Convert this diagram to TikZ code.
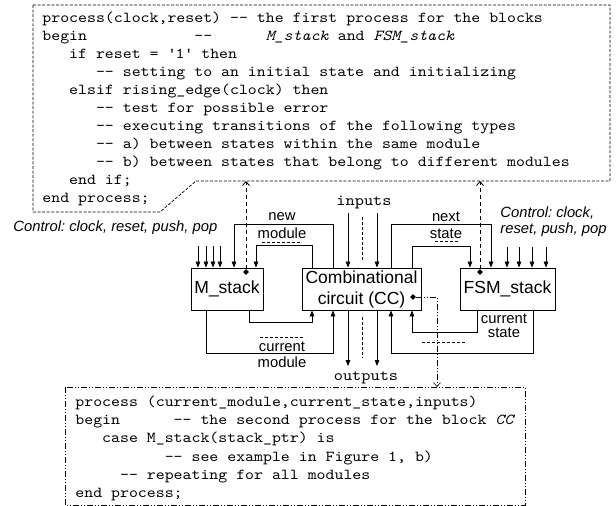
\documentclass[tikz,border=0pt]{standalone}
\usepackage{fontspec}
\setmainfont{Liberation Sans}
\newfontfamily\codefont{lmmono10-regular.otf}[ItalicFont=lmmono10-italic.otf,FakeStretch=1.12]
\usetikzlibrary{arrows.meta,shapes.geometric}
\frenchspacing
\begin{document}
\begin{tikzpicture}[x=1pt,y=-1pt,line width=0.8pt,
  blk/.style={draw,line width=0.9pt,inner sep=0pt,minimum height=42pt,
    font=\fontsize{17.5}{21}\selectfont,align=center},
  sig/.style={-{Triangle[length=6pt,width=4.6pt]}},
  code/.style={anchor=base west,inner sep=0pt,font=\fontsize{15.2}{18}\codefont},
  lbl/.style={anchor=base,inner sep=0pt,font=\fontsize{14.8}{17}\selectfont},
  ctl/.style={anchor=base west,inner sep=0pt,font=\fontsize{14.8}{17}\selectfont\itshape},
  io/.style={inner sep=0pt,font=\fontsize{15.6}{17}\codefont},
  dot/.style={diamond,fill=black,inner sep=0pt,minimum size=6pt},
  bus/.style={dash pattern=on 3pt off 2pt,line width=0.7pt},
  link/.style={dash pattern=on 4pt off 3pt,line width=0.8pt},
  dd/.style={dash pattern=on 6pt off 2pt on 1pt off 2pt on 1pt off 2pt,line width=0.6pt},
  tip/.style={-{Straight Barb[length=4pt,width=7pt]}},
  dbl/.style={double,double distance=1.6pt,line width=0.6pt}]
\useasboundingbox (0,0) rectangle (616,506);

% first process (top frame)
\draw[dash pattern=on 3pt off 1.6pt,line width=0.7pt]
  (33,5) -- (610,5) -- (610,181) -- (196,181) -- (160,212) -- (33,212) -- cycle;
\coordinate (topedge) at (400,181);
\node[code] (t1)  at (42,22)  {process(clock,reset)~-{}-~the~first~process~for~the~blocks};
\node[code] (t2)  at (42,40)  {begin~~~~~~~~~~~~-{}-~~~~~~\textit{M\_stack}~and~\textit{FSM\_stack}};
\node[code] (t3)  at (42,58)  {~~~if~reset~=~\textquotesingle 1\textquotesingle~then};
\node[code] (t4)  at (42,76)  {~~~~~~-{}-~setting~to~an~initial~state~and~initializing};
\node[code] (t5)  at (42,94)  {~~~elsif~rising\_edge(clock)~then};
\node[code] (t6)  at (42,112) {~~~~~~-{}-~test~for~possible~error};
\node[code] (t7)  at (42,130) {~~~~~~-{}-~executing~transitions~of~the~following~types};
\node[code] (t8)  at (42,148) {~~~~~~-{}-~a)~between~states~within~the~same~module};
\node[code] (t9)  at (42,166) {~~~~~~-{}-~b)~between~states~that~belong~to~different~modules};
\node[code] (t10) at (42,184) {~~~end~if;};
\node[code] (t11) at (42,202) {end~process;};

% second process (bottom frame)
\draw[dd] (65,387) rectangle (525,505);
\coordinate (botedge) at (300,387);
\node[code] (b1) at (75,406) {process~(current\_module,current\_state,inputs)};
\node[code] (b2) at (75,424) {begin~~~~~~-{}-~the~second~process~for~the~block~\textit{CC}};
\node[code] (b3) at (75,442) {~~~case~M\_stack(stack\_ptr)~is};
\node[code] (b4) at (75,461) {~~~~~~~~~~-{}-~see~example~in~Figure~1,~b)};
\node[code] (b5) at (75,479) {~~~~~-{}-~repeating~for~all~modules};
\node[code] (b6) at (75,497) {end~process;};

% blocks
\node[blk,minimum width=72pt]  (ms)  at (227,289)   {M\_stack};
\node[blk,minimum width=119pt] (cc)  at (361.5,289) {Combinational\\circuit (CC)};
\node[blk,minimum width=95pt]  (fsm) at (507.5,289) {FSM\_stack};

% M_stack <-> CC
\draw[sig] ([xshift=-28.5pt]cc.north) -- ++(0,-43) -| ([xshift=7pt]ms.north);
\draw[sig] ([xshift=-49.5pt]cc.north) -- ++(0,-22) -| ([xshift=29pt]ms.north);
\draw[sig] ([xshift=22pt]ms.south) -- ++(0,12) -| ([xshift=-49.5pt]cc.south);
\draw[sig] ([xshift=-21pt]ms.south) -- ++(0,43) -| ([xshift=-28.5pt]cc.south);

% CC <-> FSM_stack
\draw[sig] ([xshift=29.5pt]cc.north) -- ++(0,-43) -| ([xshift=-16.5pt]fsm.north);
\draw[sig] ([xshift=50.5pt]cc.north) -- ++(0,-21) -| ([xshift=-37.5pt]fsm.north);
\draw[sig] ([xshift=-30.5pt]fsm.south) -- ++(0,22) -| ([xshift=50.5pt]cc.south);
\draw[sig] ([xshift=25.5pt]fsm.south) -- ++(0,43) -| ([xshift=29.5pt]cc.south);

% signal names
\node[lbl] (nw)  at (282,220) {new};
\node[lbl] (nm)  at (282,238) {module};
\draw[bus] (262,242) -- (300,242);
\node[lbl] (cu)  at (282,351) {current};
\node[lbl] (cm)  at (282,367) {module};
\draw[bus] (260,337) -- (303,337);
\node[lbl] (nx)  at (446,221) {next};
\node[lbl] (ns)  at (446,238) {state};
\draw[bus] (435,241) -- (459,241);
\node[lbl] (cs1) at (504,323) {current};
\node[lbl] (cs2) at (504,337) {state};
\draw[bus] (422,342) -- (465,342);

% inputs and outputs of CC
\node[io] (inl)  at (364,203) {inputs};
\node[io] (outl) at (366,378) {outputs};
\coordinate (in1) at (348,213);
\coordinate (in2) at (377,213);
\coordinate (out1) at (348,366);
\coordinate (out2) at (377,366);
\draw[sig] (in1) -- (in1 |- cc.north);
\draw[sig] (in2) -- (in2 |- cc.north);
\draw[sig] (out1 |- cc.south) -- (out1);
\draw[sig] (out2 |- cc.south) -- (out2);
\draw[bus] (362,217) -- (362,262);
\draw[bus] (362,317) -- (362,358);

% control inputs
\node[ctl] (ctlL)  at (13,231)  {Control: clock, reset, push, pop};
\draw[dbl] (195,239) -- (222,239);
\foreach \x [count=\i] in {198,206,213,220} {
  \coordinate (cl\i) at (\x,246);
  \draw[sig] (cl\i) -- (cl\i |- ms.north);
}
\node[ctl] (ctlR1) at (500,217) {Control: clock,};
\node[ctl] (ctlR2) at (500,233) {reset, push, pop};
\draw[dbl] (502,239) -- (550,239);
\foreach \x [count=\i] in {507,519,532,546} {
  \coordinate (cr\i) at (\x,247);
  \draw[sig] (cr\i) -- (cr\i |- fsm.north);
}

% links to the process descriptions
\node[dot] (dm) at (246,272) {};
\node[dot] (df) at (480,272) {};
\node[dot] (dc) at (413,297) {};
\draw[link,tip] (dm) -- (dm |- topedge);
\draw[link,tip] (df) -- (df |- topedge);
\draw[dd,tip] (dc) -- ++(24,0) coordinate (bend) -- (bend |- botedge);
\end{tikzpicture}
\end{document}
